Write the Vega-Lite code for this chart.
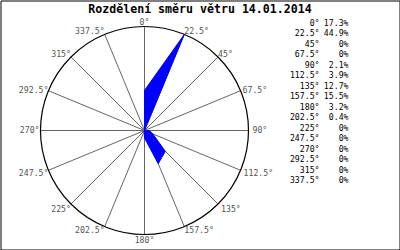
{
  "$schema": "https://vega.github.io/schema/vega-lite/v6.json",
  "width": 399,
  "height": 249,
  "padding": {"left": 0.5, "top": 0.5, "right": 0.5, "bottom": 0.5},
  "autosize": {"type": "none"},
  "background": "#ffffff",
  "config": {"view": {"stroke": "#000000", "strokeWidth": 1}},
  "datasets": {
    "dirs": [
      {"dir": 0, "label": "0°", "pct": 17.3, "pctLabel": "17.3%"},
      {"dir": 22.5, "label": "22.5°", "pct": 44.9, "pctLabel": "44.9%"},
      {"dir": 45, "label": "45°", "pct": 0, "pctLabel": "0%"},
      {"dir": 67.5, "label": "67.5°", "pct": 0, "pctLabel": "0%"},
      {"dir": 90, "label": "90°", "pct": 2.1, "pctLabel": "2.1%"},
      {"dir": 112.5, "label": "112.5°", "pct": 3.9, "pctLabel": "3.9%"},
      {"dir": 135, "label": "135°", "pct": 12.7, "pctLabel": "12.7%"},
      {"dir": 157.5, "label": "157.5°", "pct": 15.5, "pctLabel": "15.5%"},
      {"dir": 180, "label": "180°", "pct": 3.2, "pctLabel": "3.2%"},
      {"dir": 202.5, "label": "202.5°", "pct": 0.4, "pctLabel": "0.4%"},
      {"dir": 225, "label": "225°", "pct": 0, "pctLabel": "0%"},
      {"dir": 247.5, "label": "247.5°", "pct": 0, "pctLabel": "0%"},
      {"dir": 270, "label": "270°", "pct": 0, "pctLabel": "0%"},
      {"dir": 292.5, "label": "292.5°", "pct": 0, "pctLabel": "0%"},
      {"dir": 315, "label": "315°", "pct": 0, "pctLabel": "0%"},
      {"dir": 337.5, "label": "337.5°", "pct": 0, "pctLabel": "0%"}
    ]
  },
  "data": {"name": "dirs"},
  "resolve": {"scale": {"y": "independent"}},
  "layer": [
    {
      "transform": [
        {"calculate": "sin(datum.dir * PI / 180)", "as": "sx"},
        {"calculate": "cos(datum.dir * PI / 180)", "as": "cy"}
      ],
      "mark": {"type": "rule", "stroke": "#666666", "strokeWidth": 1},
      "encoding": {
        "x": {"field": "sx", "type": "quantitative", "scale": {"domain": [-1.38462, 2.45192], "nice": false, "zero": false}, "axis": null},
        "y": {"field": "cy", "type": "quantitative", "scale": {"domain": [-1.14423, 1.25], "nice": false, "zero": false}, "axis": null},
        "x2": {"datum": 0},
        "y2": {"datum": 0}
      }
    },
    {
      "data": {"values": [{"c": 0}]},
      "mark": {"type": "point", "shape": "circle", "size": 43264, "filled": false, "stroke": "#000000", "strokeWidth": 1.2, "opacity": 1},
      "encoding": {
        "x": {"field": "c", "type": "quantitative", "scale": {"domain": [-1.38462, 2.45192], "nice": false, "zero": false}, "axis": null},
        "y": {"field": "c", "type": "quantitative", "scale": {"domain": [-1.14423, 1.25], "nice": false, "zero": false}, "axis": null}
      }
    },
    {
      "transform": [
        {"joinaggregate": [{"op": "max", "field": "pct", "as": "maxPct"}]},
        {"calculate": "datum.pct / datum.maxPct * sin(datum.dir * PI / 180)", "as": "px"},
        {"calculate": "datum.pct / datum.maxPct * cos(datum.dir * PI / 180)", "as": "py"}
      ],
      "mark": {"type": "line", "interpolate": "linear-closed", "fill": "#0000ff", "stroke": "#0000ff", "strokeWidth": 1},
      "encoding": {
        "x": {"field": "px", "type": "quantitative", "scale": {"domain": [-1.38462, 2.45192], "nice": false, "zero": false}, "axis": null},
        "y": {"field": "py", "type": "quantitative", "scale": {"domain": [-1.14423, 1.25], "nice": false, "zero": false}, "axis": null},
        "order": {"field": "dir", "type": "quantitative"}
      }
    },
    {
      "transform": [
        {"calculate": "sin(datum.dir * PI / 180)", "as": "sx"},
        {"calculate": "cos(datum.dir * PI / 180)", "as": "cy"}
      ],
      "mark": {
        "type": "text",
        "font": "DejaVu Sans Mono",
        "fontSize": 8.2,
        "color": "#555555",
        "align": {"expr": "datum.dir == 0 || datum.dir == 180 ? 'center' : (datum.dir < 180 ? 'left' : 'right')"},
        "baseline": {"expr": "(datum.dir == 67.5 || datum.dir == 90 || datum.dir == 270 || datum.dir == 292.5) ? 'middle' : ((datum.dir < 90 || datum.dir > 270) ? 'alphabetic' : 'top')"},
        "dx": {"expr": "datum.dir == 90 ? 4 : (datum.dir == 112.5 || datum.dir == 135 ? 3 : (datum.dir == 67.5 ? 2 : (datum.dir == 270 ? -1 : 0)))"},
        "dy": {"expr": "datum.dir == 0 ? -2 : (datum.dir == 180 ? 2 : (datum.dir == 135 || datum.dir == 225 ? 2 : 0))"}
      },
      "encoding": {
        "x": {"field": "sx", "type": "quantitative", "scale": {"domain": [-1.38462, 2.45192], "nice": false, "zero": false}, "axis": null},
        "y": {"field": "cy", "type": "quantitative", "scale": {"domain": [-1.14423, 1.25], "nice": false, "zero": false}, "axis": null},
        "text": {"field": "label"}
      }
    },
    {
      "data": {"values": [{"title": "Rozdělení směru větru 14.01.2014"}]},
      "mark": {"type": "text", "font": "DejaVu Sans Mono", "fontSize": 11.6, "fontWeight": "bold", "color": "#000000", "align": "center", "baseline": "alphabetic"},
      "encoding": {
        "x": {"datum": 0.5337, "type": "quantitative", "scale": {"domain": [-1.38462, 2.45192], "nice": false, "zero": false}, "axis": null},
        "y": {"datum": 1.1298, "type": "quantitative", "scale": {"domain": [-1.14423, 1.25], "nice": false, "zero": false}, "axis": null},
        "text": {"field": "title"}
      }
    },
    {
      "mark": {"type": "text", "font": "DejaVu Sans Mono", "fontSize": 8.2, "color": "#000000", "align": "right", "baseline": "middle"},
      "encoding": {
        "x": {"datum": 1.6827, "type": "quantitative", "scale": {"domain": [-1.38462, 2.45192], "nice": false, "zero": false}, "axis": null},
        "y": {"field": "dir", "type": "ordinal", "scale": {"type": "point", "range": [23, 180.5], "padding": 0}, "axis": null},
        "text": {"field": "label"}
      }
    },
    {
      "mark": {"type": "text", "font": "DejaVu Sans Mono", "fontSize": 8.2, "color": "#000000", "align": "right", "baseline": "middle"},
      "encoding": {
        "x": {"datum": 1.9615, "type": "quantitative", "scale": {"domain": [-1.38462, 2.45192], "nice": false, "zero": false}, "axis": null},
        "y": {"field": "dir", "type": "ordinal", "scale": {"type": "point", "range": [23, 180.5], "padding": 0}, "axis": null},
        "text": {"field": "pctLabel"}
      }
    }
  ]
}
